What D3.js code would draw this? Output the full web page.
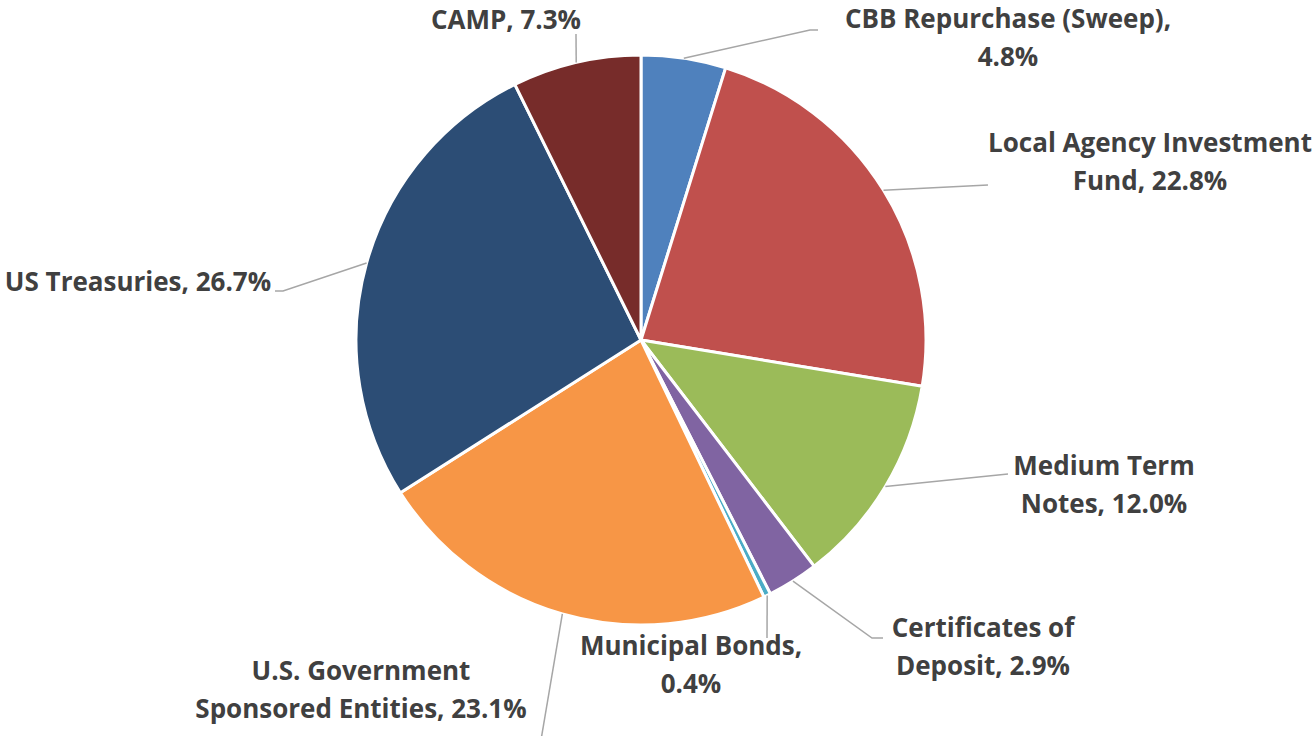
<!DOCTYPE html>
<html>
<head>
<meta charset="utf-8">
<script src="https://d3js.org/d3.v7.min.js"></script>
<style>
  html, body { margin: 0; padding: 0; background: #fff; }
  svg text { font-family: "Open Sans", Lato, sans-serif; font-weight: bold; fill: #404040; }
</style>
</head>
<body>
<div id="chart"></div>
<script>
// data, clockwise from 12 o'clock
var names = ["CBB Repurchase (Sweep)", "Local Agency Investment Fund", "Medium Term Notes",
  "Certificates of Deposit", "Municipal Bonds", "U.S. Government Sponsored Entities",
  "US Treasuries", "CAMP"];
var shares = [4.8, 22.8, 12.0, 2.9, 0.4, 23.1, 26.7, 7.3];
var colors = ["#4f81bd", "#c0504d", "#9bbb59", "#8064a2", "#4bacc6", "#f79646", "#2c4d75", "#772c2a"];

// how each label is broken into lines
var labelLines = [
  ["CBB Repurchase (Sweep),", "4.8%"],
  ["Local Agency Investment", "Fund, 22.8%"],
  ["Medium Term", "Notes, 12.0%"],
  ["Certificates of", "Deposit, 2.9%"],
  ["Municipal Bonds,", "0.4%"],
  ["U.S. Government", "Sponsored Entities, 23.1%"],
  ["US Treasuries, 26.7%"],
  ["CAMP, 7.3%"]
];

// label layout: text centre, first line centre y, leader bend and end
var labelPos = [
  {x: 1008, y: 19, bend: [810, 30], end: [818, 30]},
  {x: 1150, y: 143, bend: [988, 185], end: [988, 185]},
  {x: 1104, y: 466, bend: [1008, 474], end: [1008, 474]},
  {x: 983, y: 628, bend: [872, 638], end: [883, 638]},
  {x: 691, y: 646, bend: [767, 638], end: [767, 638]},
  {x: 361, y: 671, bend: [541, 740], end: [541, 740]},
  {x: 138, y: 282, bend: [283, 291], end: [275, 291]},
  {x: 506, y: 20, bend: [576, 34], end: [576, 34]}
];

var width = 1314, height = 736;
var cx = 641, cy = 340, radius = 285;

var svg = d3.select("#chart").append("svg")
  .attr("width", width)
  .attr("height", height);

var data = names.map(function (n, i) { return {name: n, value: shares[i], i: i}; });

var pie = d3.pie().sort(null).value(function (d) { return d.value; });
var arc = d3.arc().innerRadius(0).outerRadius(radius);
var arcs = pie(data);

var g = svg.append("g").attr("transform", "translate(" + cx + "," + cy + ")");

g.selectAll("path.slice")
  .data(arcs)
  .enter()
  .append("path")
    .attr("class", "slice")
    .attr("d", arc)
    .attr("fill", function (d) { return colors[d.data.i]; })
    .attr("stroke", "#fff")
    .attr("stroke-width", 3)
    .attr("stroke-linejoin", "round");

// leader lines start on the rim at the slice's mid angle
g.selectAll("polyline.leader")
  .data(arcs)
  .enter()
  .append("polyline")
    .attr("class", "leader")
    .attr("fill", "none")
    .attr("stroke", "#a6a6a6")
    .attr("stroke-width", 1.5)
    .attr("points", function (d) {
      var a = (d.startAngle + d.endAngle) / 2;
      var p = labelPos[d.data.i];
      var sx = Math.sin(a) * radius, sy = -Math.cos(a) * radius;
      return [[sx, sy], [p.bend[0] - cx, p.bend[1] - cy], [p.end[0] - cx, p.end[1] - cy]]
        .map(function (q) { return q.join(","); }).join(" ");
    });

// labels
svg.selectAll("text.label")
  .data(data)
  .enter()
  .append("text")
    .attr("class", "label")
    .attr("text-anchor", "middle")
    .style("font-size", "26px")
    .each(function (d) {
      var p = labelPos[d.i];
      d3.select(this).selectAll("tspan")
        .data(labelLines[d.i])
        .enter()
        .append("tspan")
          .attr("x", p.x)
          .attr("y", function (t, k) { return p.y + k * 38; })
          .attr("dy", "0.36em")
          .text(function (t) { return t; });
    });
</script>
</body>
</html>
